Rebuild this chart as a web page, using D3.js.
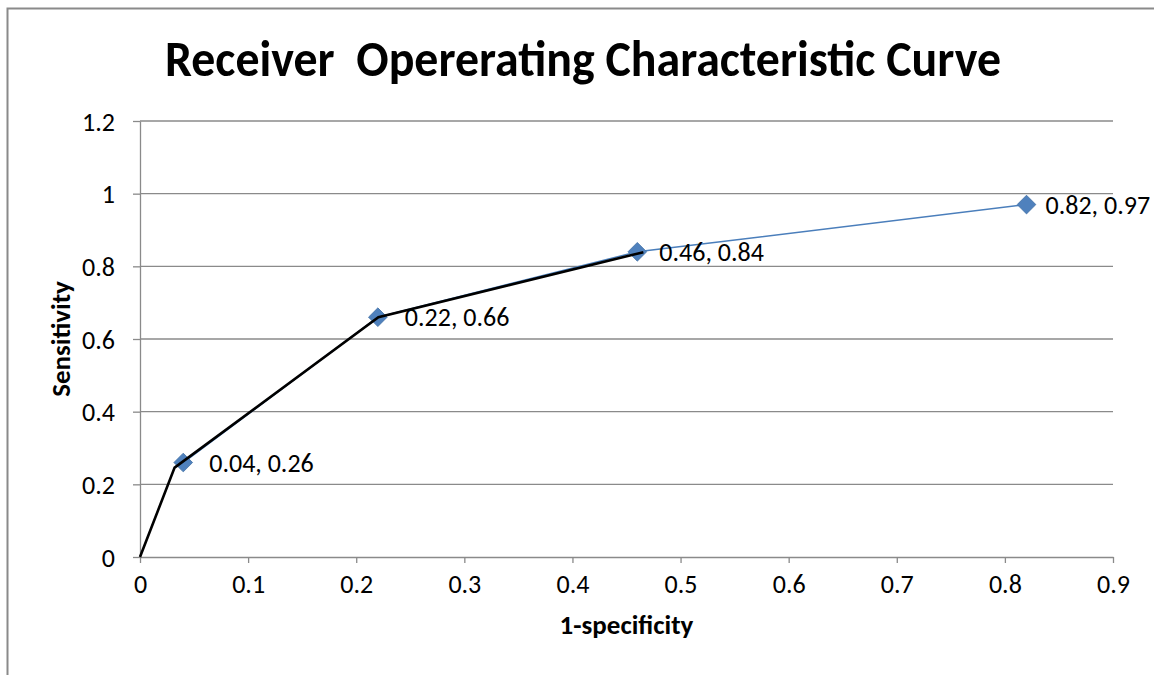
<!DOCTYPE html>
<html>
<head>
<meta charset="utf-8">
<script src="https://cdn.jsdelivr.net/npm/d3@7"></script>
<style>
  body { margin: 0; background: #fff; }
  svg { display: block; font-family: Carlito, Calibri, "Open Sans", sans-serif; }
</style>
</head>
<body>
<svg id="roc" width="1154" height="675"></svg>
<script>
// ROC points (1-specificity, sensitivity)
const fpr = [0.04, 0.22, 0.46, 0.82];
const tpr = [0.26, 0.66, 0.84, 0.97];
const pointLabels = ["0.04, 0.26", "0.22, 0.66", "0.46, 0.84", "0.82, 0.97"];

// hand drawn black curve over the chart
const curveX = [0, 0.032, 0.2205, 0.4656];
const curveY = [0, 0.246, 0.66, 0.839];

const xTicks = [0, 0.1, 0.2, 0.3, 0.4, 0.5, 0.6, 0.7, 0.8, 0.9];
const yTicks = [0, 0.2, 0.4, 0.6, 0.8, 1, 1.2];

const margin = {top: 121, right: 41, bottom: 118, left: 140};
const width = 1154 - margin.left - margin.right;
const height = 675 - margin.top - margin.bottom;

// label nudges (px) as placed in the original
const labelDx = [26, 27, 22, 19];

const svg = d3.select('#roc');

// chart frame (cut at the right and bottom)
svg.append('path')
  .attr('d', 'M7.5,675 V8.5 H1154')
  .attr('fill', 'none')
  .attr('stroke', '#8a8a8a')
  .attr('stroke-width', 2);

svg.append('text')
  .attr('x', 583).attr('y', 76)
  .attr('text-anchor', 'middle')
  .attr('font-size', 50).attr('font-weight', 'bold')
  .attr('textLength', 836)
  .attr('lengthAdjust', 'spacingAndGlyphs')
  .style('white-space', 'pre')
  .text('Receiver  Opererating Characteristic Curve');

const x = d3.scaleLinear().domain([0, 0.9]).range([0, width]);
const y = d3.scaleLinear().domain([0, 1.2]).range([height, 0]);

const chart = svg.append('g')
  .attr('transform', `translate(${margin.left}, ${margin.top})`);

// gridlines
chart.append('g')
  .selectAll('line')
  .data(yTicks.filter(d => d > 0))
  .enter().append('line')
  .attr('x1', 0).attr('x2', width)
  .attr('y1', d => y(d)).attr('y2', d => y(d))
  .attr('stroke', '#8a8a8a').attr('stroke-width', 1.3);

// x axis
const xAxis = chart.append('g')
  .attr('class', 'x axis')
  .attr('transform', `translate(0, ${height})`)
  .call(d3.axisBottom(x).tickValues(xTicks).tickSize(6).tickPadding(12)
    .tickFormat(d => String(d)).tickSizeOuter(0));

// y axis
const yAxis = chart.append('g')
  .attr('class', 'y axis')
  .call(d3.axisLeft(y).tickValues(yTicks).tickSize(7).tickPadding(18)
    .tickFormat(d => String(d)).tickSizeOuter(0));

[xAxis, yAxis].forEach(a => {
  a.select('.domain').attr('stroke', '#8a8a8a').attr('stroke-width', 1.3);
  a.selectAll('.tick line').attr('stroke', '#8a8a8a').attr('stroke-width', 1.3);
  a.selectAll('.tick text').attr('fill', '#000').attr('font-size', 26)
    .attr('font-family', 'Carlito, Calibri, "Open Sans", sans-serif');
});
yAxis.selectAll('.tick text').attr('dy', '0.35em');

// axis titles
svg.append('text')
  .attr('x', margin.left + x(0.45)).attr('y', 634)
  .attr('text-anchor', 'middle')
  .attr('font-size', 27).attr('font-weight', 'bold')
  .text('1-specificity');

svg.append('text')
  .attr('transform', `translate(70, ${margin.top + y(0.6)}) rotate(-90)`)
  .attr('text-anchor', 'middle')
  .attr('font-size', 27).attr('font-weight', 'bold')
  .text('Sensitivity');

const pts = fpr.map((v, i) => ({x: v, y: tpr[i], label: pointLabels[i], dx: labelDx[i]}));

// series line
chart.append('path')
  .datum(pts)
  .attr('fill', 'none')
  .attr('stroke', '#4a7ebb')
  .attr('stroke-width', 1.5)
  .attr('d', d3.line().x(d => x(d.x)).y(d => y(d.y)));

// markers
chart.selectAll('.pt')
  .data(pts)
  .enter().append('path')
  .attr('class', 'pt')
  .attr('transform', d => `translate(${x(d.x)}, ${y(d.y)}) rotate(45)`)
  .attr('d', 'M-6.6,-6.6H6.6V6.6H-6.6Z')
  .attr('fill', '#4f81bd')
  .attr('stroke', '#4572a7').attr('stroke-width', 0.8);

// black curve
const curve = curveX.map((v, i) => ({x: v, y: curveY[i]}));
chart.append('path')
  .datum(curve)
  .attr('fill', 'none')
  .attr('stroke', '#000')
  .attr('stroke-width', 2.6)
  .attr('d', d3.line().x(d => x(d.x)).y(d => y(d.y)));

// data labels
chart.selectAll('.lbl')
  .data(pts)
  .enter().append('text')
  .attr('class', 'lbl')
  .attr('x', d => x(d.x) + d.dx)
  .attr('y', d => y(d.y))
  .attr('dy', '0.35em')
  .attr('font-size', 26)
  .text(d => d.label);
</script>
</body>
</html>
